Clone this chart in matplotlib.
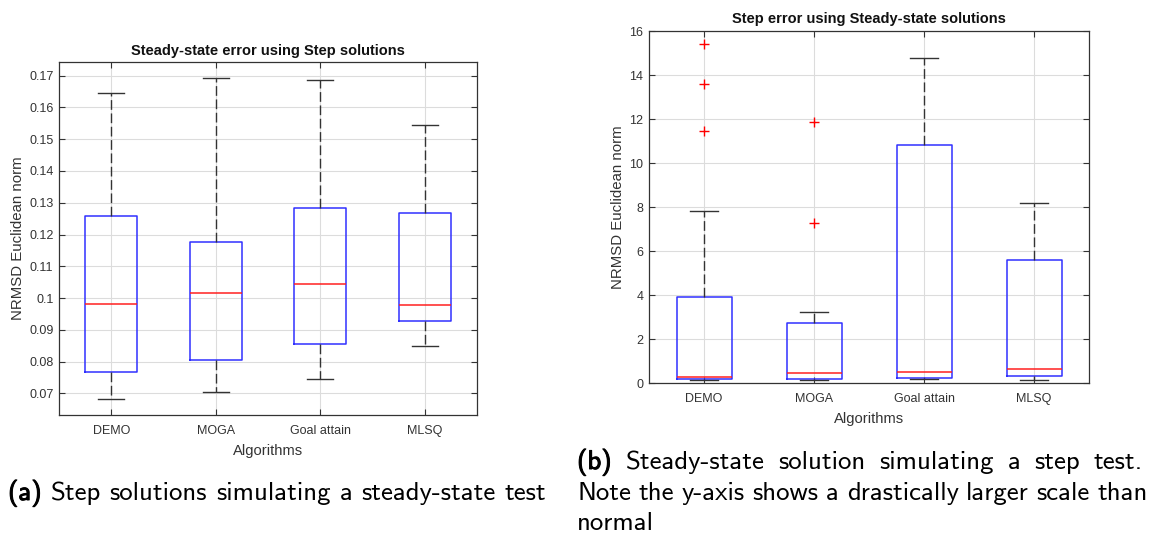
import matplotlib
matplotlib.use('Agg')
import matplotlib.pyplot as plt
import matplotlib.patheffects as pe

algorithms = ['DEMO', 'MOGA', 'Goal attain', 'MLSQ']

# (a) steady-state error of the step solutions
ss_whislo = [0.0681, 0.0703, 0.0745, 0.0850]
ss_q1 = [0.0767, 0.0805, 0.0854, 0.0928]
ss_med = [0.0982, 0.1017, 0.1044, 0.0978]
ss_q3 = [0.1259, 0.1175, 0.1284, 0.1269]
ss_whishi = [0.1646, 0.1694, 0.1686, 0.1545]
ss_fliers = [[], [], [], []]
ss_yticks = [0.07, 0.08, 0.09, 0.1, 0.11, 0.12, 0.13, 0.14, 0.15, 0.16, 0.17]
ss_yticklabels = ['0.07', '0.08', '0.09', '0.1', '0.11', '0.12', '0.13', '0.14', '0.15', '0.16', '0.17']

# (b) step error of the steady-state solutions
st_whislo = [0.15, 0.15, 0.18, 0.15]
st_q1 = [0.18, 0.20, 0.21, 0.30]
st_med = [0.29, 0.44, 0.49, 0.62]
st_q3 = [3.89, 2.73, 10.81, 5.60]
st_whishi = [7.82, 3.21, 14.79, 8.19]
st_fliers = [[11.46, 13.60, 15.39], [7.27, 11.85], [], []]
st_yticks = [0, 2, 4, 6, 8, 10, 12, 14, 16]
st_yticklabels = ['0', '2', '4', '6', '8', '10', '12', '14', '16']

W, H = 1154, 536
fig = plt.figure(figsize=(W / 100, H / 100), dpi=100)
plt.rcParams['font.family'] = ['Liberation Sans', 'DejaVu Sans']

def px_axes(x0, y0, x1, y1):
    # pixel box (top-left origin) -> figure axes
    return fig.add_axes([x0 / W, 1 - y1 / H, (x1 - x0) / W, (y1 - y0) / H])

def draw_panel(ax, whislo, q1, med, q3, whishi, fliers, title, yticks, yticklabels, ylim, tpad):
    stats = []
    for name, lo, a, m, b, hi, fl in zip(algorithms, whislo, q1, med, q3, whishi, fliers):
        stats.append(dict(label=name, whislo=lo, q1=a, med=m, q3=b, whishi=hi, fliers=fl))
    ax.bxp(stats, widths=0.5, capwidths=0.25, showfliers=True,
           boxprops=dict(color='#3030ff', linewidth=1.1),
           medianprops=dict(color='#ff2020', linewidth=1.1),
           whiskerprops=dict(color='#333333', linestyle=(0, (7, 2.6)), linewidth=1.0),
           capprops=dict(color='#333333', linewidth=1.0),
           flierprops=dict(marker='+', markeredgecolor='red', markersize=6.5,
                           markeredgewidth=1.0, linestyle='none'))
    ax.set_xlim(0.5, 4.5)
    ax.set_ylim(*ylim)
    ax.set_yticks(yticks)
    ax.set_yticklabels(yticklabels)
    ax.grid(True, color='#dcdcdc', linewidth=0.8)
    ax.set_axisbelow(True)
    ax.tick_params(direction='in', top=True, right=True, length=4, width=0.8,
                   color='#333333', labelcolor='#333333', labelsize=9)
    ax.tick_params(axis='x', pad=7)
    ax.tick_params(axis='y', pad=4)
    for s in ax.spines.values():
        s.set_color('#333333')
        s.set_linewidth(0.9)
    ax.set_title(title, fontsize=10.5, fontweight='bold', color='#111111', pad=tpad)
    ax.set_xlabel('Algorithms', fontsize=10.6, color='#333333', labelpad=5)
    ax.set_ylabel('NRMSD Euclidean norm', fontsize=10.8, color='#333333', labelpad=3)

ax1 = px_axes(59, 62, 477, 415)
draw_panel(ax1, ss_whislo, ss_q1, ss_med, ss_q3, ss_whishi, ss_fliers,
           'Steady-state error using Step solutions', ss_yticks, ss_yticklabels,
           (0.0632, 0.1743), 5)

ax2 = px_axes(649, 31, 1089, 383)
draw_panel(ax2, st_whislo, st_q1, st_med, st_q3, st_whishi, st_fliers,
           'Step error using Steady-state solutions', st_yticks, st_yticklabels,
           (0, 16), 6)

# captions below the panels, placed word by word on a common baseline
cap_font = dict(family='cmss10', fontsize=19.3, color='black', va='baseline')
bold_fx = [pe.withStroke(linewidth=0.7, foreground='black')]
renderer = fig.canvas.get_renderer()

def text_width(s):
    t = fig.text(0, 0, s, **cap_font)
    w = t.get_window_extent(renderer).width
    t.remove()
    return w

space = text_width('a a') - 2 * text_width('a')

def caption_line(words, x0, y, x1=None, bold_first=False):
    texts = []
    for i, w in enumerate(words):
        t = fig.text(0, 1 - y / H, w, **cap_font)
        if bold_first and i == 0:
            t.set_path_effects(bold_fx)
        texts.append(t)
    widths = [t.get_window_extent(renderer).width for t in texts]
    if x1 is not None and len(words) > 1:
        gap = (x1 - x0 - sum(widths)) / (len(words) - 1)
    else:
        gap = space
    x = x0
    for t, w in zip(texts, widths):
        t.set_x(x / W)
        x += w + gap

caption_line('(a) Step solutions simulating a steady-state test'.split(), 8, 500, bold_first=True)
caption_line('(b) Steady-state solution simulating a step test.'.split(), 577, 469, 1143, bold_first=True)
caption_line('Note the y-axis shows a drastically larger scale than'.split(), 577, 500, 1148)
caption_line(['normal'], 577, 530)

fig.savefig('out.png', dpi=100)
